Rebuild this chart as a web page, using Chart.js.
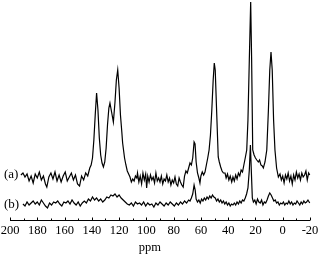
<!DOCTYPE html>
<html>
<head>
<meta charset="utf-8">
<script src="https://cdn.jsdelivr.net/npm/chart.js@4.4.0/dist/chart.umd.min.js"></script>
<style>
html,body{margin:0;padding:0;background:#fff;}
#c{display:block;}
</style>
</head>
<body>
<canvas id="c" width="319" height="259" style="width:319px;height:259px"></canvas>
<script>
// ---- Data ----
const tickValues = [200,180,160,140,120,100,80,60,40,20,0,-20];
const tickLabels = ["200","180","160","140","120","100","80","60","40","20","0","-20"];
const axisTitle = "ppm";
const seriesNames = ["(a)","(b)"];

const ppmA = [192,190.5,189,187.5,186,184.5,183,181.5,180,178.5,177,175.5,174,173,171.5,170,168.5,167,165.5,164,162.5,161,159.5,158,156.5,155,153.5,152,150.5,149,147.5,146,144.5,143,141.5,140.5,139.5,138.5,137.5,136.5,135.5,134.5,133.5,132.5,131.5,130.5,129.5,128.5,127.5,126.7,125.5,124.2,123,122,121,120,119,118,117.4,116,115,114,113,112,111,110,109,108,107,106.5,105.5,104.5,103.5,102.5,101.5,100.5,99.8,99,98,97,96,95,94,93,92,91,90,89,88,87,86,85,84,83,82,81,80,79,78,77,76,75,74,73,72,71,70,69,68,67,66,65,64.3,63.5,62.5,61.5,60.7,60,59,58,57,56,55,54,53,52,51,50.2,49.5,48.5,47.3,46.5,45.5,44.5,43.5,42.3,41.5,40.5,39.5,38.5,37.4,36.5,35.5,34.5,33.5,32.5,31.5,30.5,29.5,28.5,27.5,26.4,25.5,24.5,23.5,22.8,22,21,20,19,17.9,17,16,15,14.2,13,11.7,10.5,9.5,8.6,7.7,6.7,5.7,4.5,3.2,2,1,0,-1,-2,-3,-4,-5,-6,-7,-8,-9,-10,-11,-12,-13,-14,-15,-16,-17,-18,-19,-19.8];
const intA = [45,47,43,46,39,44,37,46,42,48,40,44,36,33,43,47,41,48,39,45,38,44,48,39,43,47,40,45,36,34,44,40,47,44,52,55,62,80,105,127,110,82,65,57,53,58,72,95,112,117,108,98,118,140,150,132,105,88,77,62,55,49,46,43,38,41,39,44,42,47,38,44,36,47,40,46,32,44,38,45,40,43,37,47,39,42,38,44,36,41,39,45,38,42,35,40,37,43,36,34,42,38,35,33,44,49,47,52,57,55,62,78,76,58,47,42,37,44,48,45,48,55,62,70,85,110,140,157,150,110,63,58,53,49,47,47,42,46,40,44,38,43,39,45,41,47,44,50,48,55,62,70,100,160,218,160,70,65,62,60,58,60,55,54,52,58,70,110,150,168,150,100,70,52,43,46,40,44,37,45,41,47,39,44,36,45,40,48,42,46,40,47,43,45,49,40,47,45];

const ppmB = [190.5,189,187.5,186,184.5,183,181.5,180,178.5,177,175.5,174,172.5,171,169.5,168,166.5,165,163.5,162,160.5,159,157.5,156,154.5,153,151.5,150,148.5,147,145.5,144,142.5,141,139.5,138,136.5,135,133.5,132,130.5,129,127.5,126,124.5,123,121.5,120,118.5,117,115.5,114,112.5,111,109.5,108,106.5,105,103.5,102,100.5,99,97.5,96,94.5,93,91.5,90,88.5,87,85.5,84,82.5,81,79.5,78,76.5,75,73.5,72,70.5,69,68,67,66,65,64.2,63.5,62.5,61.5,60.5,59.5,58.5,57.5,56.5,55.5,54.5,53.5,52.5,51.5,50.5,49.5,48.5,47.5,46.5,45.5,44.5,43.5,42.5,41.5,40.5,39.5,38.5,37.5,36.5,35.5,34.5,33.5,32.5,31.5,30.5,29.5,28.5,27.5,26.5,25.5,24.5,23.7,23,22.3,21.5,20.5,19.5,18.5,17.5,16.5,15.5,14.5,13.5,12.5,11.5,10.5,9.5,8.5,7.5,6.5,5.5,4.5,3.5,2.5,1.5,0.5,-0.5,-1.5,-2.5,-3.5,-4.5,-5.5,-6.5,-7.5,-8.5,-9.5,-10.5,-11.5,-12.5,-13.5,-14.5,-15.5,-16.5,-17.5,-18.5,-19.8];
const intB = [16,14,18,15,17,19,16,18,15,20,17,14,12,17,15,18,17,19,16,14,18,17,19,16,20,17,15,18,14,17,19,17,21,19,23,20,22,19,21,18,20,23,22,25,24,26,23,25,22,20,18,16,15,17,14,18,16,17,15,18,14,17,15,16,13,17,15,18,16,14,17,15,18,16,14,17,15,18,16,19,17,20,19,22,26,35,30,21,18,20,17,21,19,22,20,23,21,24,22,25,23,22,19,21,18,20,17,19,16,18,15,17,14,16,15,17,15,18,16,19,17,20,19,22,26,32,50,75,48,22,18,20,16,21,18,17,20,15,18,17,20,24,27,25,22,19,20,17,18,15,17,16,18,15,17,16,19,16,18,15,17,16,19,17,15,18,16,19,17,18,20,17];

// ---- build datasets from arrays ----
const ptsA = ppmA.map((p,i)=>({x:p,y:intA[i]}));
const ptsB = ppmB.map((p,i)=>({x:p,y:intB[i]}));

const FONT = '"Liberation Serif","Times New Roman",serif';

const axisPlugin = {
  id:'nmrAxis',
  afterDraw(chart){
    const ctx = chart.ctx;
    const xs = chart.scales.x;
    const ca = chart.chartArea;
    const y0 = Math.round(ca.bottom) + 0.5;
    ctx.save();
    ctx.strokeStyle = '#000';
    ctx.lineWidth = 1;
    ctx.beginPath();
    ctx.moveTo(xs.getPixelForValue(200), y0);
    ctx.lineTo(xs.getPixelForValue(-20), y0);
    ctx.stroke();
    for (let v=-20; v<=200; v+=10){
      const px = Math.round(xs.getPixelForValue(v)) + 0.5;
      const len = (v % 20 === 0) ? 3 : 2;
      ctx.beginPath();
      ctx.moveTo(px, y0);
      ctx.lineTo(px, y0 - len);
      ctx.stroke();
    }
    ctx.fillStyle = '#000';
    ctx.font = '12.5px ' + FONT;
    ctx.textAlign = 'center';
    ctx.textBaseline = 'middle';
    tickValues.forEach((v,i)=>{
      ctx.fillText(tickLabels[i], xs.getPixelForValue(v), y0 + 10.5);
    });
    ctx.font = '12.5px ' + FONT;
    ctx.fillText(axisTitle, xs.getPixelForValue(97.5), y0 + 27);
    const ys = chart.scales.y;
    ctx.font = '13px ' + FONT;
    ctx.textAlign = 'left';
    ctx.fillText(seriesNames[0], 4, ys.getPixelForValue(intA[0]));
    ctx.fillText(seriesNames[1], 4, ys.getPixelForValue(intB[0]) + 1);
    ctx.restore();
  }
};

new Chart(document.getElementById('c'), {
  type:'line',
  data:{
    datasets:[
      {label:seriesNames[0], data:ptsA, borderColor:'#000', borderWidth:1.2, pointRadius:0, tension:0, fill:false},
      {label:seriesNames[1], data:ptsB, borderColor:'#000', borderWidth:1.2, pointRadius:0, tension:0, fill:false}
    ]
  },
  options:{
    responsive:false,
    animation:false,
    devicePixelRatio:1,
    clip:false,
    layout:{padding:{left:10,right:9,top:0,bottom:39}},
    plugins:{legend:{display:false},tooltip:{enabled:false}},
    scales:{
      x:{type:'linear',min:-20,max:200,reverse:true,display:false},
      y:{min:0,max:220,display:false}
    }
  },
  plugins:[axisPlugin]
});
</script>
</body>
</html>
